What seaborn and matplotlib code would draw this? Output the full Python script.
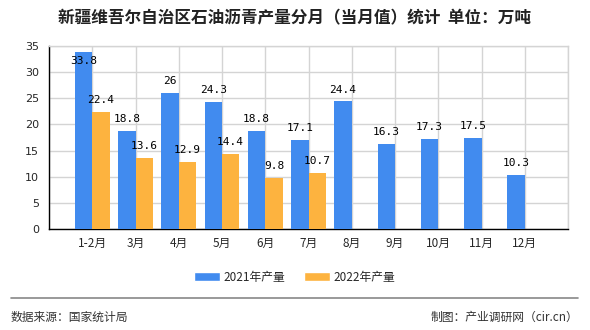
import numpy as np
import pandas as pd
import matplotlib
matplotlib.use("Agg")
import matplotlib.pyplot as plt
import seaborn as sns
from matplotlib.patches import Patch

months = ["1-2月", "3月", "4月", "5月", "6月", "7月", "8月", "9月", "10月", "11月", "12月"]
v2021 = [33.8, 18.8, 26, 24.3, 18.8, 17.1, 24.4, 16.3, 17.3, 17.5, 10.3]
v2022 = [22.4, 13.6, 12.9, 14.4, 9.8, 10.7, np.nan, np.nan, np.nan, np.nan, np.nan]
series = ["2021年产量", "2022年产量"]
colors = ["#418bef", "#fdb33f"]
title = "新疆维吾尔自治区石油沥青产量分月（当月值）统计  单位：万吨"
source_left = "数据来源：国家统计局"
source_right = "制图：产业调研网（cir.cn）"

sns.set_theme(style="white")
plt.rcParams["font.family"] = ["Noto Sans CJK SC", "DejaVu Sans"]

df = pd.DataFrame({
    "month": months * 2,
    "value": v2021 + v2022,
    "series": [series[0]] * len(months) + [series[1]] * len(months),
})

W, H = 590, 330
fig = plt.figure(figsize=(W / 100, H / 100), dpi=100)
ax = fig.add_axes([49 / W, 1 - 229 / H, (568 - 49) / W, (229 - 46) / H])

sns.barplot(data=df, x="month", y="value", hue="series", order=months,
            hue_order=series, palette=colors, width=0.8, saturation=1,
            ax=ax, legend=False, zorder=3, linewidth=0, edgecolor="none")

ax.set_xlim(-1, len(months))
ax.set_ylim(0, 35)
ax.set_yticks(np.arange(0, 36, 5))
ax.set_xticks(np.arange(-1, len(months) + 1), minor=True)
ax.set_xticks(np.arange(len(months)))
ax.set_xticklabels(months, fontsize=8.5)
ax.set_xlabel("")
ax.set_ylabel("")
for lab in ax.get_yticklabels():
    lab.set_fontfamily("DejaVu Sans")
    lab.set_fontsize(8)

ax.grid(True, axis="y", color="#d4d4d4", linewidth=1, zorder=0)
ax.grid(True, axis="x", which="minor", color="#d4d4d4", linewidth=1, zorder=0)
ax.set_axisbelow(True)
for c in range(len(months)):
    ax.axvline(c, color="#d4d4d4", linewidth=1, zorder=0)

ax.tick_params(axis="x", which="both", length=3, color="black", direction="out", pad=3)
ax.tick_params(axis="x", which="minor", labelbottom=False)
ax.tick_params(axis="y", length=3, color="black", direction="out", pad=4)
ax.spines["left"].set_color("black")
ax.spines["bottom"].set_color("black")
ax.spines["top"].set_color("#d4d4d4")
ax.spines["right"].set_color("#d4d4d4")
for s in ax.spines.values():
    s.set_linewidth(1)

for cont in ax.containers:
    for bar in cont:
        h = bar.get_height()
        if np.isnan(h) or h == 0:
            continue
        x = bar.get_x() + bar.get_width() / 2
        label = f"{h:g}"
        if h + 2.5 > 35:
            off = -6
        else:
            off = 8.5
        ax.annotate(label, (x, h), xytext=(0, off), textcoords="offset points",
                    ha="center", va="center", fontsize=8,
                    family="DejaVu Sans Mono", color="black", zorder=5)

fig.text(0.5, 1 - 18 / H, title, ha="center", va="center", fontsize=12,
         fontweight="bold", color="#222222")

handles = [Patch(facecolor=colors[0]), Patch(facecolor=colors[1])]
fig.legend(handles, series, loc="center", bbox_to_anchor=(0.5, 1 - 277 / H),
           ncol=2, frameon=False, fontsize=8.5, handlelength=2.2,
           handleheight=0.8, handletextpad=0.3, columnspacing=1.6)

fig.add_artist(plt.Line2D([11 / W, 578 / W], [1 - 298 / H, 1 - 298 / H],
                          color="#888888", linewidth=1.2, transform=fig.transFigure))
fig.text(11 / W, 1 - 317 / H, source_left, ha="left", va="center",
         fontsize=8.5, color="#333333")
fig.text(578 / W, 1 - 317 / H, source_right, ha="right", va="center",
         fontsize=8.5, color="#333333")

fig.savefig("out.png", dpi=100)
